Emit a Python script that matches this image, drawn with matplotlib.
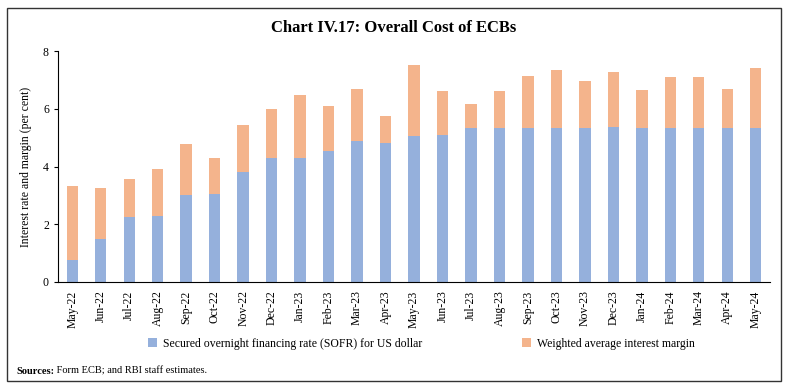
import matplotlib.pyplot as plt
from matplotlib.patches import Rectangle

months = ['May-22', 'Jun-22', 'Jul-22', 'Aug-22', 'Sep-22', 'Oct-22', 'Nov-22',
          'Dec-22', 'Jan-23', 'Feb-23', 'Mar-23', 'Apr-23', 'May-23', 'Jun-23',
          'Jul-23', 'Aug-23', 'Sep-23', 'Oct-23', 'Nov-23', 'Dec-23', 'Jan-24',
          'Feb-24', 'Mar-24', 'Apr-24', 'May-24']
sofr = [0.77, 1.49, 2.26, 2.29, 3.00, 3.05, 3.82, 4.31, 4.31, 4.54, 4.87, 4.81,
        5.07, 5.10, 5.32, 5.32, 5.32, 5.35, 5.35, 5.38, 5.32, 5.32, 5.35, 5.35, 5.35]
total = [3.31, 3.27, 3.56, 3.93, 4.78, 4.30, 5.45, 6.00, 6.49, 6.09, 6.70, 5.74,
         7.51, 6.60, 6.16, 6.63, 7.14, 7.35, 6.97, 7.27, 6.66, 7.10, 7.09, 6.68, 7.41]
# margin is the orange part stacked on top of SOFR
margin = [t - s for t, s in zip(total, sofr)]

plt.rcParams['font.family'] = ['Liberation Serif', 'DejaVu Serif']

fig = plt.figure(figsize=(7.88, 3.90), dpi=100)
ax = fig.add_axes([58 / 788, 1 - 282 / 390, 712 / 788, 231 / 390])

x = range(len(months))
b1 = ax.bar(x, sofr, width=0.4, color='#95B0DC')
b2 = ax.bar(x, margin, width=0.4, bottom=sofr, color='#F4B48C')

ax.set_xlim(-0.5, len(months) - 0.5)
ax.set_ylim(0, 8)
ax.set_yticks([0, 2, 4, 6, 8])
ax.set_xticks(list(x))
ax.set_xticklabels(months, rotation=90, fontsize=8.5)
ax.tick_params(axis='x', length=0, pad=6)
ax.tick_params(axis='y', labelsize=8.5, length=3)
ax.spines['top'].set_visible(False)
ax.spines['right'].set_visible(False)
ax.set_ylabel('Interest rate and margin (per cent)', fontsize=8.5, labelpad=8)

fig.text(0.5, 1 - 28 / 390, 'Chart IV.17: Overall Cost of ECBs',
         ha='center', va='center', fontsize=12, fontweight='bold')

leg_kw = dict(frameon=False, fontsize=8.5, handlelength=0.8, handleheight=0.8,
              handletextpad=0.5, borderaxespad=0, borderpad=0, loc='center left')
fig.legend([b1], ['Secured overnight financing rate (SOFR) for US dollar'],
           bbox_to_anchor=(148 / 788, 1 - 344 / 390), **leg_kw)
fig.legend([b2], ['Weighted average interest margin'],
           bbox_to_anchor=(522 / 788, 1 - 344 / 390), **leg_kw)

src = fig.text(16 / 788, 1 - 371 / 390, 'Sources:', ha='left', va='center',
               fontsize=7.5, fontweight='bold')
ax.annotate(' Form ECB; and RBI staff estimates.', xy=(1, 0.5), xycoords=src,
            ha='left', va='center', fontsize=7.5, annotation_clip=False)

# outer frame round the whole chart
fig.patches.append(Rectangle((7 / 788, 9 / 390), 774 / 788, 373 / 390,
                             transform=fig.transFigure, fill=False,
                             edgecolor='#333333', linewidth=1))

fig.savefig('out.png', dpi=100)
